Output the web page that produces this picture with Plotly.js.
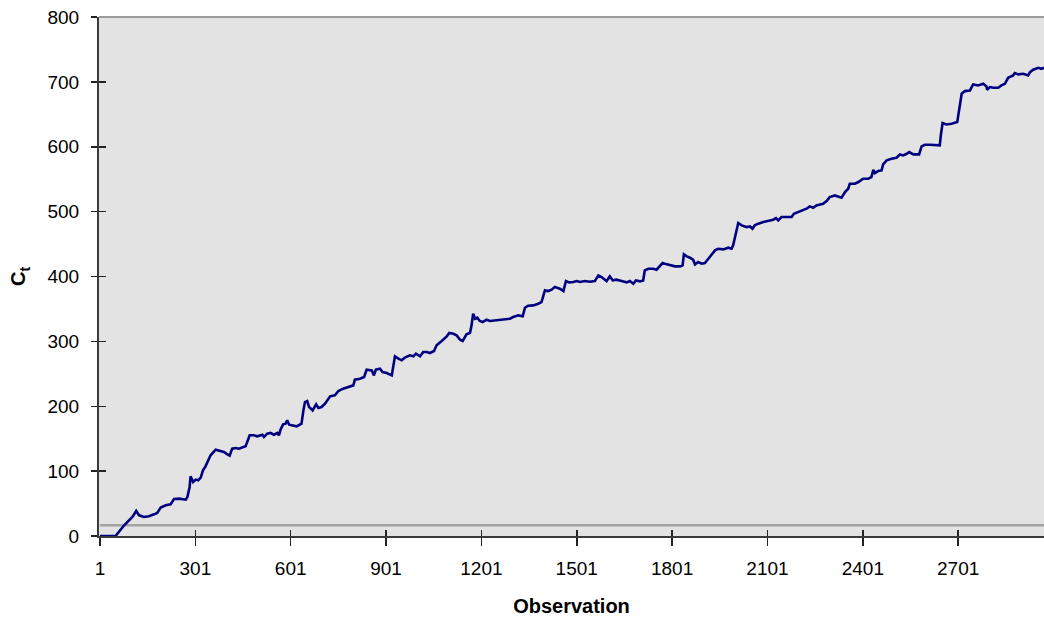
<!DOCTYPE html>
<html>
<head>
<meta charset="utf-8">
<script src="https://cdn.plot.ly/plotly-3.0.1.min.js"></script>
<style>
  html, body { margin: 0; padding: 0; background: #ffffff; }
  #chart { width: 1044px; height: 622px; }
</style>
</head>
<body>
<div id="chart"></div>
<script>
// Observation index of each vertex of the C_t path
const observation = [
  1, 50, 77, 103, 115, 124, 139, 155, 171, 181, 192, 208, 223, 234, 250, 271, 276, 283, 286, 294,
  302, 310, 318, 325, 333, 344, 349, 365, 375, 391, 402, 409, 417, 428, 438, 449, 459, 468, 472, 485,
  496, 512, 517, 527, 538, 548, 559, 564, 569, 577, 585, 590, 596,
  620, 635, 641, 646, 653, 659, 670, 681, 688, 698, 709, 716, 725, 740, 751, 766, 782, 798, 803,
  819, 832, 840, 856, 863, 869, 882, 890, 903, 919, 924, 929, 940, 950, 960, 976, 987, 995, 1008,
  1018, 1029, 1039, 1052, 1060, 1076, 1092, 1100, 1113, 1123, 1134, 1142, 1149, 1154, 1165, 1170,
  1175, 1181, 1188, 1196,
  1205, 1217, 1228, 1244, 1259, 1275, 1291, 1301, 1317, 1331, 1338, 1348, 1364, 1380, 1390, 1401,
  1411, 1422, 1432, 1448, 1459, 1467, 1477, 1490, 1501, 1511, 1527, 1542, 1558, 1569, 1579, 1595,
  1605, 1614, 1626, 1642, 1658, 1668, 1679, 1687, 1700, 1710, 1715, 1726, 1742, 1752, 1763, 1771,
  1778, 1794,
  1810, 1826, 1834, 1838, 1847, 1857, 1867, 1873, 1883, 1894, 1904, 1915, 1925, 1936, 1946, 1962,
  1978, 1988, 1993, 1999, 2004, 2009, 2020, 2035, 2046, 2054, 2061, 2072, 2088, 2103, 2119, 2128,
  2135, 2145, 2161, 2177, 2184, 2198, 2214, 2224, 2234, 2245, 2255, 2266, 2276, 2287, 2297, 2313,
  2324, 2334, 2345, 2355, 2360, 2376, 2387,
  2402, 2418, 2428, 2434, 2439, 2449, 2460, 2465, 2476, 2491, 2507, 2518, 2528, 2539, 2547, 2560,
  2578, 2586, 2596, 2612, 2628, 2643, 2647, 2652, 2664, 2680, 2698, 2704, 2712, 2722, 2738, 2748,
  2764, 2780, 2790, 2792, 2801, 2811, 2827, 2837, 2848, 2858, 2874, 2879, 2890, 2906, 2921, 2927,
  2937, 2953, 2963, 2971
];

// Cumulative statistic C_t at each of those observations
const ct = [
  0, 0, 16.5, 29.3, 38.6, 31.9, 29.3, 30.4, 33.4, 35.5, 43.7, 47.3, 48.8, 57.1, 57.6, 56.0, 60.1, 75.6, 92.0, 83.3,
  86.9, 85.8, 89.9, 101.2, 107.4, 119.2, 124.4, 133.1, 132.1, 129.5, 125.9, 123.8, 134.6, 135.7, 134.6, 136.2, 138.2, 150.0, 155.2, 155.2,
  153.6, 156.2, 152.6, 157.7, 158.8, 156.2, 158.8, 155.2, 163.9, 172.1, 173.2, 178.3, 171.6,
  169.0, 173.2, 193.7, 206.5, 208.1, 198.8, 193.7, 202.9, 197.3, 198.8, 204.0, 209.1, 215.3, 216.8, 223.5, 227.1, 229.7, 232.2, 241.0,
  242.5, 245.1, 256.4, 255.3, 247.6, 256.4, 257.9, 252.8, 251.2, 247.6, 260.5, 276.9, 273.3, 270.8, 274.9, 278.5, 276.9, 281.0, 276.9,
  283.6, 283.6, 282.1, 285.1, 293.9, 300.5, 307.7, 312.9, 311.8, 309.3, 302.6, 300.5, 305.7, 310.8, 312.9, 324.7,
  342.7, 335.0, 336.5, 331.4,
  329.8, 333.4, 331.4, 332.4, 333.4, 335.0, 335.0, 337.5, 340.1, 338.6, 351.9, 355.0, 355.5, 358.1, 360.6, 378.6,
  377.6, 379.7, 383.8, 381.2, 377.6, 393.0, 391.0, 391.5, 393.0, 391.5, 393.0, 392.0, 393.0, 401.7, 399.2, 393.0,
  400.2, 394.0, 395.1, 393.0, 391.0, 393.0, 388.9, 394.0, 392.5, 394.0, 409.4, 412.0, 412.0, 410.5, 417.1, 420.7,
  419.7, 417.1,
  415.6, 415.6, 417.1, 434.1, 431.0, 429.0, 425.9, 418.7, 422.3, 419.7, 420.7, 427.4, 434.1, 440.3, 442.8, 441.8,
  444.4, 442.8, 448.0, 461.8, 475.2, 482.4, 478.8, 476.2, 477.2, 473.6, 478.8, 481.4, 483.9, 485.5, 487.5, 490.1,
  486.5, 491.6, 491.6, 491.6, 496.8, 499.3, 501.9, 504.5, 508.1, 506.0, 509.6, 511.1, 512.2, 516.3, 522.4, 525.0,
  523.5, 521.4, 530.1, 535.3, 543.0, 543.0, 545.6,
  550.7, 550.7, 553.3, 564.6, 559.4, 562.5, 563.5, 572.8, 579.0, 581.5, 583.1, 588.2, 586.7, 589.2, 591.8, 588.2,
  588.2, 600.5, 603.1, 603.1, 602.1, 602.1, 620.1, 636.5, 634.4, 635.5, 638.0, 656.0, 681.7, 685.8, 686.8, 696.1,
  694.5, 697.1, 693.0, 687.9, 692.0, 690.9, 690.9, 694.5, 697.1, 706.3, 709.9, 713.5, 711.5, 712.5, 709.9, 715.1,
  718.7, 721.7, 720.2, 721.7
];

// Constant reference level drawn across the whole sample
const referenceLevel = 16.5;

// Category tick labels on the observation axis
const xTicks = [1, 301, 601, 901, 1201, 1501, 1801, 2101, 2401, 2701];
const yTicks = [0, 100, 200, 300, 400, 500, 600, 700, 800];

const xFirst = observation[0];
const xLast = observation[observation.length - 1];
const xRange = [xFirst - 3.1, xLast];
const yRange = [0, 800];

const font = { family: 'Liberation Sans, Arial, sans-serif', size: 19, color: '#000000' };
const titleFont = { family: 'Liberation Sans, Arial, sans-serif', size: 20, color: '#000000' };

const traces = [
  {
    // reference level sits underneath the C_t path
    x: [xFirst, xLast],
    y: [referenceLevel, referenceLevel],
    xaxis: 'x',
    yaxis: 'y',
    type: 'scatter',
    mode: 'lines',
    line: { color: '#a3a3a3', width: 2.5 },
    hoverinfo: 'skip',
    showlegend: false
  },
  {
    // C_t path on the overlay axes, which also carry the inner half of each tick
    x: observation,
    y: ct,
    xaxis: 'x2',
    yaxis: 'y2',
    type: 'scatter',
    mode: 'lines',
    line: { color: '#000080', width: 2.6 },
    name: 'C_t',
    showlegend: false
  }
];

const layout = {
  width: 1044,
  height: 622,
  margin: { l: 99, r: 0, t: 17, b: 86, pad: 0 },
  paper_bgcolor: '#ffffff',
  plot_bgcolor: '#e3e3e3',
  font: font,
  showlegend: false,
  xaxis: {
    range: xRange,
    tickmode: 'array',
    tickvals: xTicks,
    ticktext: xTicks.map(String),
    ticks: 'outside',
    ticklen: 8,
    tickwidth: 1.5,
    tickcolor: '#222222',
    showline: true,
    linecolor: '#3a3a3a',
    linewidth: 2,
    showgrid: false,
    zeroline: false,
    tickfont: font,
    ticklabelstandoff: 6,
    title: {
      text: '<b>Observation</b>',
      font: titleFont,
      standoff: 21
    },
    automargin: false
  },
  xaxis2: {
    overlaying: 'x',
    anchor: 'y2',
    range: xRange,
    tickmode: 'array',
    tickvals: xTicks,
    ticks: 'inside',
    ticklen: 6,
    tickwidth: 1.5,
    tickcolor: '#222222',
    showticklabels: false,
    showline: false,
    showgrid: false,
    zeroline: false
  },
  yaxis: {
    range: yRange,
    tickmode: 'array',
    tickvals: yTicks,
    ticktext: yTicks.map(String),
    ticks: 'outside',
    ticklen: 6,
    tickwidth: 1.5,
    tickcolor: '#222222',
    showline: true,
    linecolor: '#3a3a3a',
    linewidth: 2,
    showgrid: false,
    zeroline: false,
    tickfont: font,
    ticklabelstandoff: 8,
    title: {
      text: '<b>C<sub>t</sub></b>',
      font: titleFont,
      standoff: 16
    },
    automargin: false
  },
  yaxis2: {
    overlaying: 'y',
    anchor: 'x2',
    range: yRange,
    tickmode: 'array',
    tickvals: yTicks,
    ticks: 'inside',
    ticklen: 7,
    tickwidth: 1.5,
    tickcolor: '#222222',
    showticklabels: false,
    showline: false,
    showgrid: false,
    zeroline: false
  },
  shapes: [
    {
      type: 'line', xref: 'paper', yref: 'paper',
      x0: 0, x1: 1, y0: 1, y1: 1,
      line: { color: '#9a9a9a', width: 2 }
    }
  ]
};

Plotly.newPlot('chart', traces, layout, { staticPlot: true, displayModeBar: false });
</script>
</body>
</html>
